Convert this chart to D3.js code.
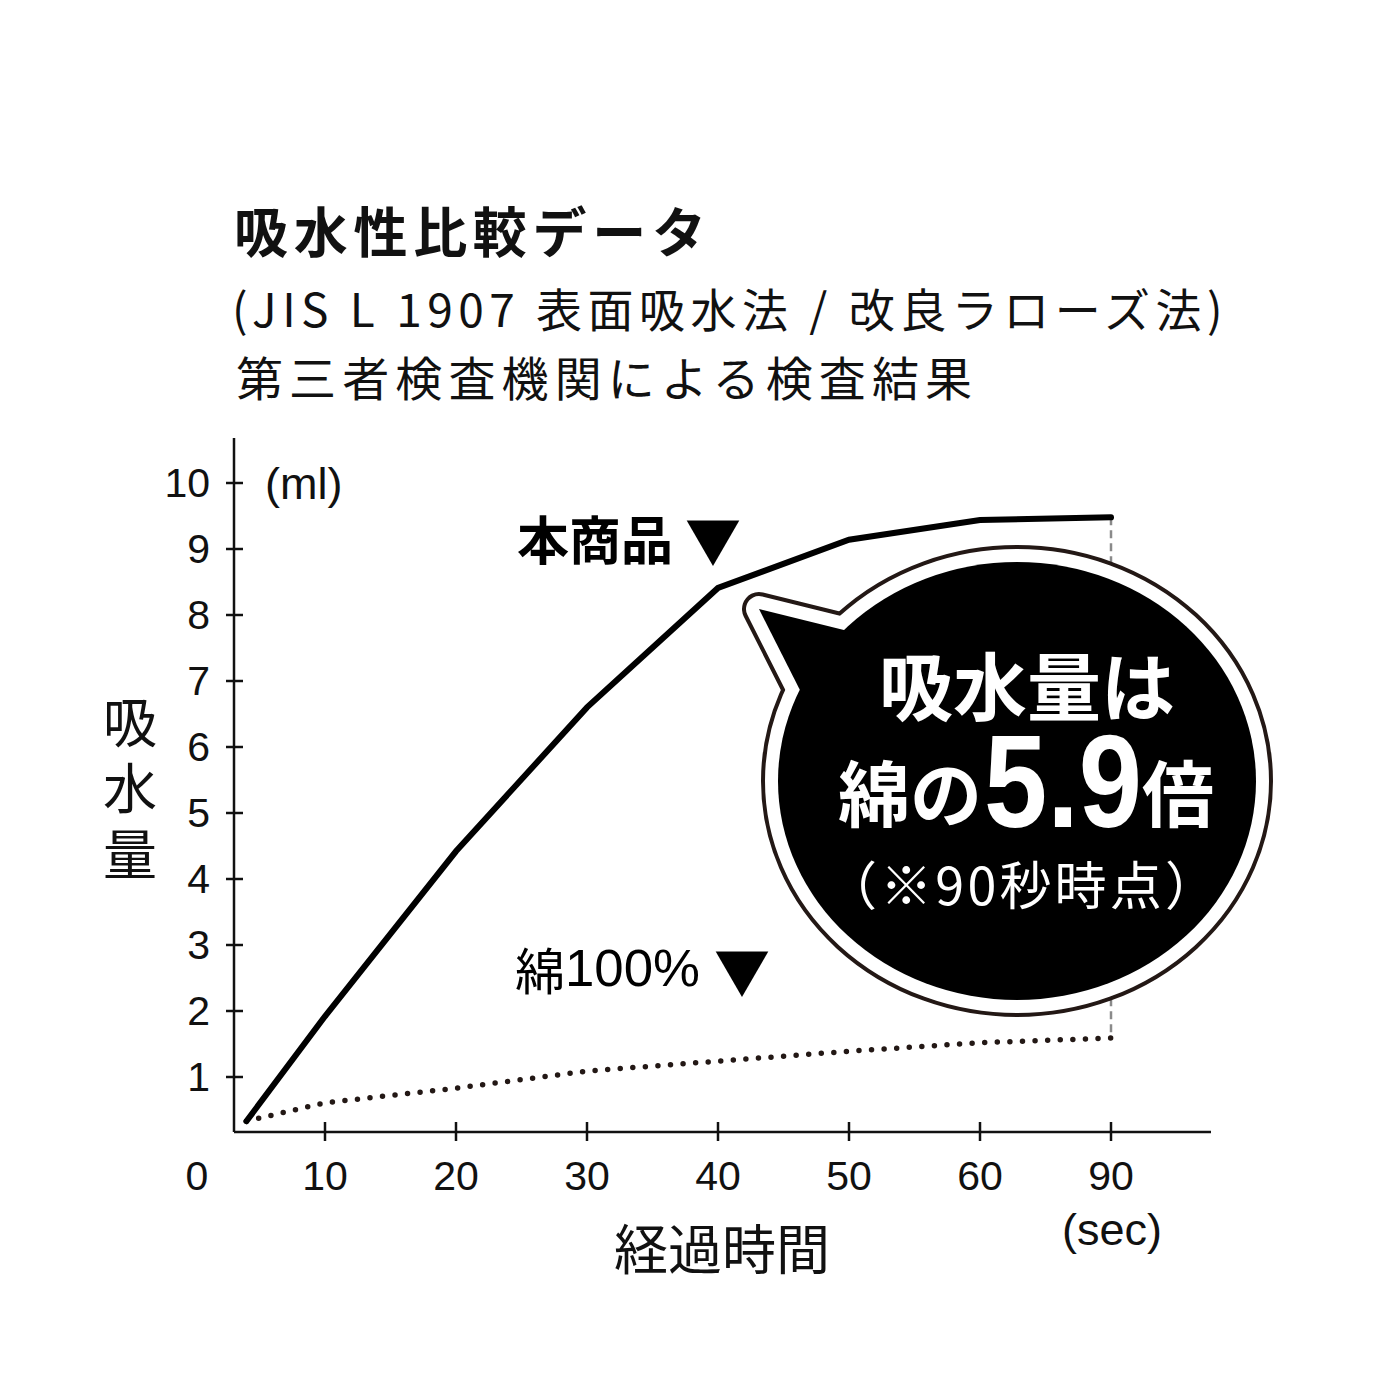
<!DOCTYPE html>
<html><head><meta charset="utf-8">
<script src="https://cdn.jsdelivr.net/npm/d3@7"></script>
<style>html,body{margin:0;padding:0;background:#fff}</style>
</head><body>
<svg id="c" width="1390" height="1390"></svg>
<script>
// ---- data ----
const times = [4, 10, 20, 30, 40, 50, 60, 90];
const productValues = [0.33, 1.92, 4.42, 6.6, 8.41, 9.14, 9.44, 9.48];
const cottonValues  = [0.33, 0.61, 0.83, 1.09, 1.24, 1.39, 1.52, 1.59];
const xTickValues = [0, 10, 20, 30, 40, 50, 60, 90];
const xTickLabels = ["0", "10", "20", "30", "40", "50", "60", "90"];
const yTickValues = [1, 2, 3, 4, 5, 6, 7, 8, 9, 10];
const titleText = "吸水性比較データ";
const subtitle1 = "(JIS L 1907 表面吸水法 / 改良ラローズ法)";
const subtitle2 = "第三者検査機関による検査結果";
const productLabel = "本商品▼";
const cottonLabel = "綿100%▼";

const svg = d3.select("#c");
const JP = "'Noto Sans CJK JP','Noto Sans',sans-serif";
const LAT = "'Liberation Sans',Arial,sans-serif";
const INK = "#111";

// scales (x is piecewise: category positions evenly spaced)
const x = d3.scaleLinear().domain(xTickValues).range(xTickValues.map((d, i) => 194 + 131 * i));
const y = d3.scaleLinear().domain([0, 10]).range([1143, 483]);
const axisY = 1132, axisX = 234;

// title
svg.append("text").attr("x", 234).attr("y", 229).attr("dominant-baseline", "central")
  .attr("font-family", JP).attr("font-weight", 700).attr("font-size", 54)
  .attr("textLength", 472).attr("lengthAdjust", "spacing").attr("fill", INK).text(titleText);
svg.append("text").attr("x", 232).attr("y", 307).attr("dominant-baseline", "central")
  .attr("font-family", JP).attr("font-size", 46).attr("letter-spacing", 5.5)
  .attr("fill", INK).text(subtitle1);
svg.append("text").attr("x", 236).attr("y", 375).attr("dominant-baseline", "central")
  .attr("font-family", JP).attr("font-size", 47)
  .attr("textLength", 736).attr("lengthAdjust", "spacing").attr("fill", INK).text(subtitle2);

// axes
const gy = svg.append("g").attr("transform", `translate(${axisX},0)`);
gy.append("line").attr("x1", 0).attr("x2", 0).attr("y1", 438).attr("y2", axisY)
  .attr("stroke", INK).attr("stroke-width", 2.5);
gy.selectAll(".yt").data(yTickValues).join("line")
  .attr("x1", -8).attr("x2", 9).attr("y1", d => y(d)).attr("y2", d => y(d))
  .attr("stroke", INK).attr("stroke-width", 2.5);
gy.selectAll(".yl").data(yTickValues).join("text")
  .attr("x", -24).attr("y", d => y(d)).attr("text-anchor", "end").attr("dominant-baseline", "central")
  .attr("font-family", LAT).attr("font-size", 41).attr("fill", INK).text(d => d);

const gx = svg.append("g");
gx.append("line").attr("x1", axisX).attr("x2", 1211).attr("y1", axisY).attr("y2", axisY)
  .attr("stroke", INK).attr("stroke-width", 2.5);
gx.selectAll(".xt").data(xTickValues.slice(1)).join("line")
  .attr("x1", d => x(d)).attr("x2", d => x(d)).attr("y1", axisY - 10).attr("y2", axisY + 9)
  .attr("stroke", INK).attr("stroke-width", 2.5);
gx.selectAll(".xl").data(xTickValues).join("text")
  .attr("x", (d, i) => x(d) + (i === 0 ? 3 : 0)).attr("y", 1176).attr("text-anchor", "middle")
  .attr("dominant-baseline", "central").attr("font-family", LAT).attr("font-size", 41)
  .attr("fill", INK).text((d, i) => xTickLabels[i]);

// unit labels
svg.append("text").attr("x", 265).attr("y", 483).attr("dominant-baseline", "central")
  .attr("font-family", LAT).attr("font-size", 45).attr("fill", INK).text("(ml)");
svg.append("text").attr("x", 1112).attr("y", 1229).attr("text-anchor", "middle").attr("dominant-baseline", "central")
  .attr("font-family", LAT).attr("font-size", 45).attr("fill", INK).text("(sec)");
svg.append("text").attr("x", 722).attr("y", 1246).attr("text-anchor", "middle").attr("dominant-baseline", "central")
  .attr("font-family", JP).attr("font-size", 54).attr("fill", INK).text("経過時間");
svg.append("text").attr("x", 130).attr("y", 695)
  .style("writing-mode", "vertical-rl").attr("letter-spacing", 12)
  .attr("font-family", JP).attr("font-size", 54).attr("fill", INK).text("吸水量");

// dashed reference line at 90 sec
const lastI = times.length - 1;
svg.append("line").attr("x1", x(times[lastI])).attr("x2", x(times[lastI]))
  .attr("y1", y(productValues[lastI])).attr("y2", y(cottonValues[lastI]))
  .attr("stroke", "#8a8a8a").attr("stroke-width", 2.5).attr("stroke-dasharray", "8 5");

// lines
const line = d3.line().x((d, i) => x(times[i])).y(d => y(d));
svg.append("path").attr("d", line(cottonValues)).attr("fill", "none")
  .attr("stroke", "#231815").attr("stroke-width", 5.5).attr("stroke-linecap", "round")
  .attr("stroke-dasharray", "0 12.6");
svg.append("path").attr("d", line(productValues)).attr("fill", "none")
  .attr("stroke", "#000").attr("stroke-width", 6).attr("stroke-linecap", "round")
  .attr("stroke-linejoin", "miter");

// series labels
const pl = svg.append("text").attr("x", 517).attr("y", 537).attr("dominant-baseline", "central")
  .attr("font-family", JP).attr("font-weight", 700).attr("font-size", 52).attr("fill", "#000");
pl.append("tspan").text(productLabel.slice(0, 3));
pl.append("tspan").attr("dx", 12).attr("font-size", 56).text(productLabel.slice(3));

const cl = svg.append("text").attr("x", 515).attr("y", 968).attr("dominant-baseline", "central")
  .attr("fill", "#000");
cl.append("tspan").attr("font-family", JP).attr("font-size", 50).text(cottonLabel.slice(0, 1));
cl.append("tspan").attr("font-family", LAT).attr("font-size", 52).attr("textLength", 135)
  .attr("lengthAdjust", "spacingAndGlyphs").text(cottonLabel.slice(1, 5));
cl.append("tspan").attr("dx", 14).attr("font-family", JP).attr("font-size", 56).text(cottonLabel.slice(5));

// speech bubble
const cx = 1017, cy = 781, rx = 239, ry = 219;
const tail = [[759, 609], [852, 632], [808, 706]];
function bubble(g, fill, sw) {
  g.append("ellipse").attr("cx", cx).attr("cy", cy).attr("rx", rx).attr("ry", ry)
    .attr("fill", fill).attr("stroke", sw ? fill : "none").attr("stroke-width", sw);
  g.append("polygon").attr("points", tail.map(p => p.join(",")).join(" "))
    .attr("fill", fill).attr("stroke", sw ? fill : "none").attr("stroke-width", sw)
    .attr("stroke-linejoin", "round");
}
bubble(svg.append("g"), "#231815", 34);
bubble(svg.append("g"), "#fff", 26);
bubble(svg.append("g"), "#000", 0);

svg.append("text").attr("x", 1027).attr("y", 682).attr("text-anchor", "middle").attr("dominant-baseline", "central")
  .attr("font-family", JP).attr("font-weight", 700).attr("font-size", 74).attr("fill", "#fff").text("吸水量は");

const l2 = svg.append("text").attr("x", 838).attr("y", 789).attr("dominant-baseline", "central")
  .attr("font-weight", 700).attr("fill", "#fff");
l2.append("tspan").attr("font-family", JP).attr("font-size", 72).text("綿の");
l2.append("tspan").attr("font-family", LAT).attr("font-size", 132).attr("dy", -8).attr("dx", 2)
  .attr("textLength", 158).attr("lengthAdjust", "spacingAndGlyphs").text("5.9");
l2.append("tspan").attr("font-family", JP).attr("font-size", 72).attr("dy", 8).text("倍");

svg.append("text").attr("x", 1021).attr("y", 882).attr("text-anchor", "middle").attr("dominant-baseline", "central")
  .attr("font-family", JP).attr("font-size", 52).attr("fill", "#fff")
  .attr("textLength", 392).attr("lengthAdjust", "spacing").text("（※90秒時点）");
</script>
</body></html>
